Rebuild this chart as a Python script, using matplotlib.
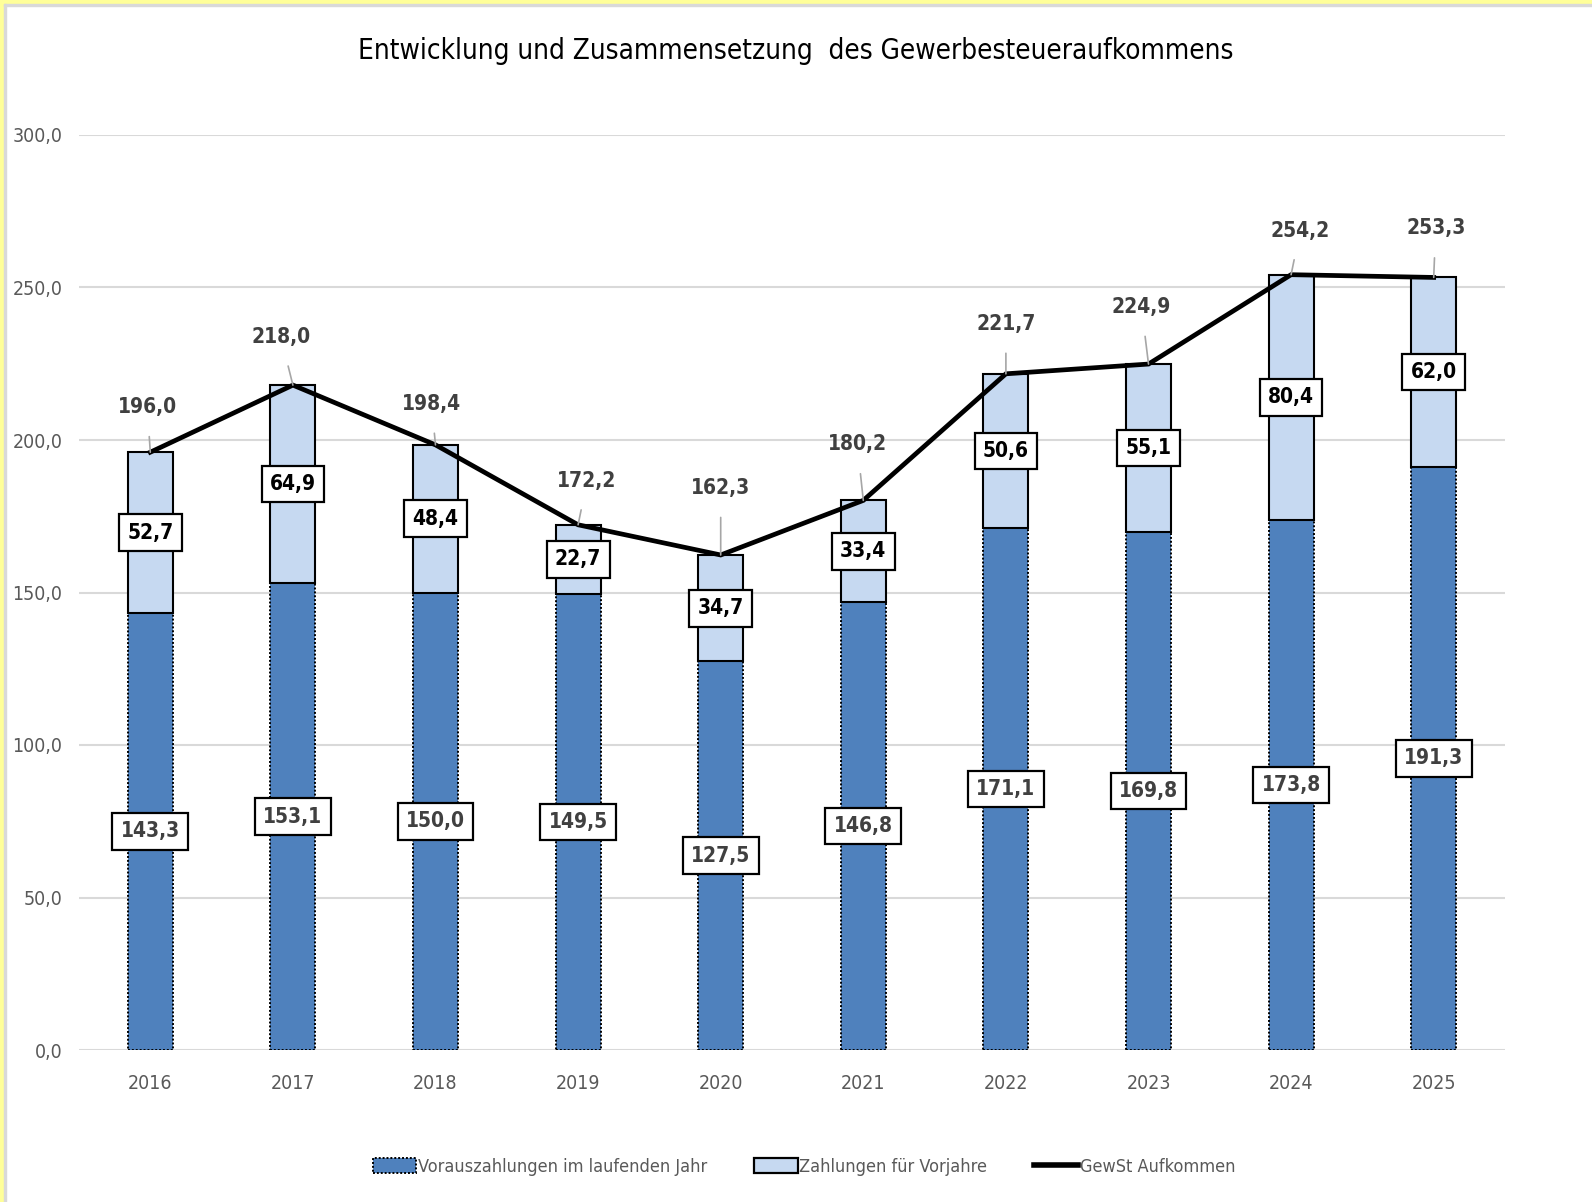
import matplotlib
matplotlib.use("Agg")
import matplotlib.pyplot as plt
from matplotlib.patches import Rectangle, Patch
from matplotlib.lines import Line2D

plt.rcParams['font.family'] = ['DejaVu Sans']
plt.rcParams['font.stretch'] = 'condensed'

years = ["2016", "2017", "2018", "2019", "2020", "2021", "2022", "2023", "2024", "2025"]
vorauszahlungen = [143.3, 153.1, 150.0, 149.5, 127.5, 146.8, 171.1, 169.8, 173.8, 191.3]
vorjahre = [52.7, 64.9, 48.4, 22.7, 34.7, 33.4, 50.6, 55.1, 80.4, 62.0]
aufkommen = [196.0, 218.0, 198.4, 172.2, 162.3, 180.2, 221.7, 224.9, 254.2, 253.3]
yticks = [0, 50, 100, 150, 200, 250, 300]

# label offsets (pixels) for total labels
total_offsets = [(-3, 45), (-12, 48), (-4, 41), (9, 44), (0, 67), (-6, 56), (0, 50), (-7, 57), (9, 44), (2, 49)]

def de(v):
    return f"{v:.1f}".replace(".", ",")

c_dark = "#4F81BD"
c_light = "#C6D9F1"

fig = plt.figure(figsize=(15.92, 12.02), dpi=100)
fig.patch.set_facecolor("white")
fig.patches.append(Rectangle((0, 0), 4/1592, 1, transform=fig.transFigure, color="#FFFF99", zorder=0))
fig.patches.append(Rectangle((0, 1 - 4/1202), 1, 4/1202, transform=fig.transFigure, color="#FFFF99", zorder=0))
fig.patches.append(Rectangle((4/1592, 0), 2/1592, 1 - 4/1202, transform=fig.transFigure, color="#D9D9D9", zorder=0))
fig.patches.append(Rectangle((4/1592, 1 - 6/1202), 1, 2/1202, transform=fig.transFigure, color="#D9D9D9", zorder=0))

ax = fig.add_axes([79/1592, 1 - 1050/1202, (1505 - 79)/1592, (1050 - 135)/1202])
x = list(range(len(years)))
w = 0.315

ax.bar(x, vorauszahlungen, width=w, color=c_dark, edgecolor="black", linewidth=1.4, linestyle=(0, (1, 1)), zorder=2)
ax.bar(x, vorjahre, width=w, bottom=vorauszahlungen, color=c_light, edgecolor="black", linewidth=1.5, zorder=2)
ax.plot(x, aufkommen, color="black", linewidth=3.4, zorder=4, solid_joinstyle="miter")

for i in x:
    ax.text(i, vorauszahlungen[i] / 2, de(vorauszahlungen[i]), ha="center", va="center",
            fontsize=15, fontweight="bold", color="#404040", zorder=5,
            bbox=dict(boxstyle="square,pad=0.4", fc="white", ec="black", lw=1.6))
    ax.text(i, vorauszahlungen[i] + vorjahre[i] / 2, de(vorjahre[i]), ha="center", va="center",
            fontsize=15, fontweight="bold", color="black", zorder=5,
            bbox=dict(boxstyle="square,pad=0.4", fc="white", ec="black", lw=1.6))
    dx, dy = total_offsets[i]
    ax.annotate(de(aufkommen[i]), xy=(i, aufkommen[i]), xytext=(dx, dy), textcoords="offset pixels",
                ha="center", va="center", fontsize=15, fontweight="bold", color="#404040", zorder=5,
                arrowprops=dict(arrowstyle="-", color="#A6A6A6", lw=1.2, shrinkA=12, shrinkB=0))

ax.set_xlim(-0.5, len(years) - 0.5)
ax.set_ylim(0, 300)
ax.set_yticks(yticks)
ax.set_yticklabels([de(v) for v in yticks])
ax.set_xticks(x)
ax.set_xticklabels(years)
ax.tick_params(axis="both", length=0, labelsize=14, labelcolor="#595959")
ax.tick_params(axis="x", pad=17)
ax.tick_params(axis="y", pad=12)
ax.grid(axis="y", color="#D9D9D9", linewidth=1.5, zorder=0)
ax.set_axisbelow(True)
for s in ax.spines.values():
    s.set_visible(False)

fig.text(0.5, 1 - 51/1202, "Entwicklung und Zusammensetzung  des Gewerbesteueraufkommens",
         ha="center", va="center", fontsize=20, color="black")

handles = [
    Patch(facecolor=c_dark, edgecolor="black", linestyle=(0, (1, 1)), linewidth=1.4, label="Vorauszahlungen im laufenden Jahr"),
    Patch(facecolor=c_light, edgecolor="black", linewidth=1.6, label="Zahlungen für Vorjahre"),
    Line2D([0], [0], color="black", linewidth=4, label="GewSt Aufkommen"),
]
fig.legend(handles=handles, loc="center", bbox_to_anchor=(804/1592, 1 - 1167/1202), ncol=3, frameon=False,
           fontsize=13, labelcolor="#595959", handlelength=2.4, handleheight=0.9, handletextpad=0.1, columnspacing=2.6)

fig.savefig("out.png", dpi=100, facecolor="white")
